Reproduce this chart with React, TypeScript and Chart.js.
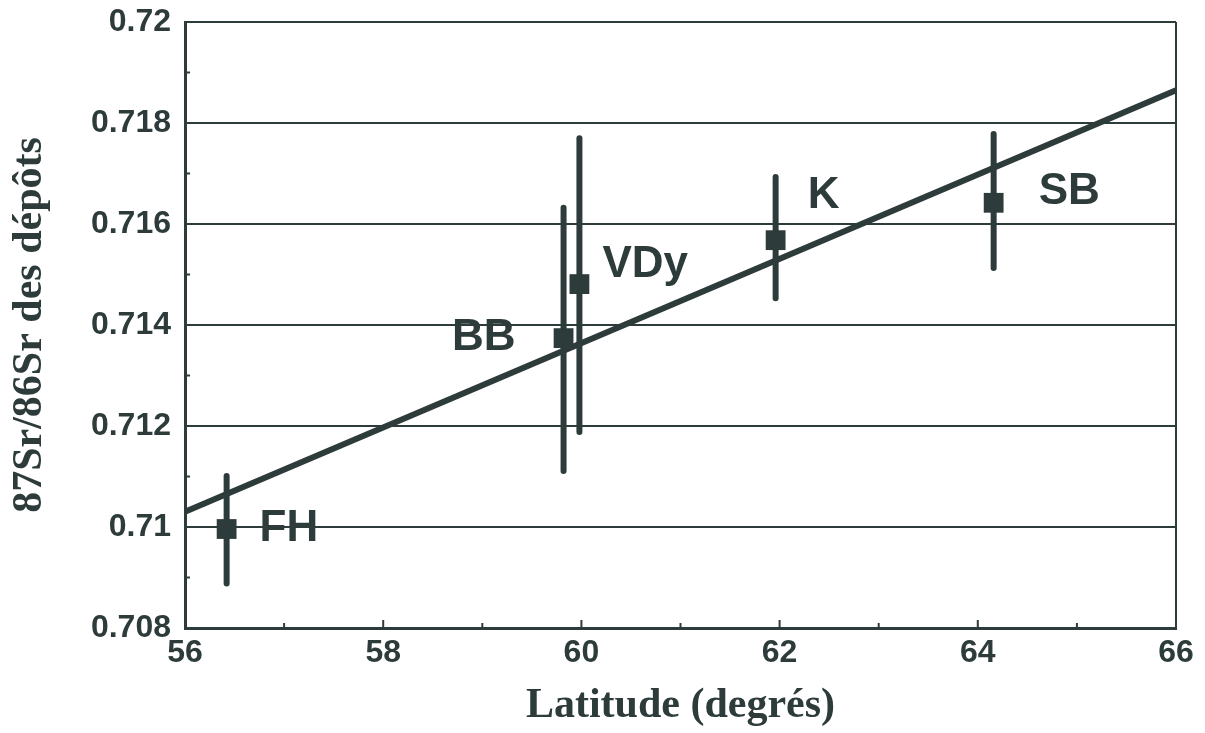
import React, { useEffect, useRef } from "react";
import { Chart, registerables } from "chart.js";

Chart.register(...registerables);

const sites = ["FH", "BB", "VDy", "K", "SB"];
const latitudes = [56.42, 59.82, 59.98, 61.96, 64.16];
const ratios = [0.70996, 0.71374, 0.71481, 0.71568, 0.71642];
const errLow = [0.70888, 0.71111, 0.71188, 0.71453, 0.71513];
const errHigh = [0.71101, 0.71632, 0.71770, 0.71693, 0.71778];
const fitX = [56, 66];
const fitY = [0.7103, 0.71865];
const xTickValues = [56, 58, 60, 62, 64, 66];
const xMinorTicks = [57, 59, 61, 63, 65];
const yMinorTicks = [0.709, 0.711, 0.713, 0.715, 0.717, 0.719];

const INK = "#2e3b3b";
// label pixel offsets [dx, dy, align]
const labelOffsets: [number, number, CanvasTextAlign][] = [
  [33, 0, "left"],
  [-48, 0, "right"],
  [23, -19, "left"],
  [32, -44, "left"],
  [45, -11, "left"],
];

const decorPlugin = {
  id: "decor",
  afterDatasetsDraw(chart: any) {
    const { ctx, chartArea, scales } = chart;
    const xs = scales.x;
    const ys = scales.y;
    ctx.save();
    ctx.strokeStyle = INK;
    ctx.lineWidth = 2;
    ctx.beginPath();
    ctx.moveTo(chartArea.right, chartArea.top);
    ctx.lineTo(chartArea.right, chartArea.bottom);
    ctx.stroke();
    xTickValues.forEach((v) => {
      const px = xs.getPixelForValue(v);
      ctx.beginPath();
      ctx.moveTo(px, chartArea.bottom);
      ctx.lineTo(px, chartArea.bottom - 8);
      ctx.stroke();
    });
    xMinorTicks.forEach((v) => {
      const px = xs.getPixelForValue(v);
      ctx.beginPath();
      ctx.moveTo(px, chartArea.bottom);
      ctx.lineTo(px, chartArea.bottom - 5);
      ctx.stroke();
    });
    yMinorTicks.forEach((v) => {
      const py = ys.getPixelForValue(v);
      ctx.beginPath();
      ctx.moveTo(chartArea.left, py);
      ctx.lineTo(chartArea.left + 5, py);
      ctx.stroke();
    });
    ctx.fillStyle = INK;
    ctx.font = "bold 44px 'Liberation Sans', Arial, sans-serif";
    ctx.textBaseline = "middle";
    sites.forEach((s, i) => {
      const px = xs.getPixelForValue(latitudes[i]);
      const py = ys.getPixelForValue(ratios[i]);
      const [dx, dy, al] = labelOffsets[i];
      ctx.textAlign = al;
      ctx.fillText(s, px + dx, py + dy);
    });
    ctx.restore();
  },
};

export default function App() {
  const ref = useRef<HTMLCanvasElement>(null);
  useEffect(() => {
    if (!ref.current) return;
    const errorSets = sites.map((s, i) => ({
      type: "line" as const,
      label: s + " err",
      data: [
        { x: latitudes[i], y: errLow[i] },
        { x: latitudes[i], y: errHigh[i] },
      ],
      borderColor: INK,
      borderWidth: 6,
      borderCapStyle: "round" as const,
      pointRadius: 0,
      order: 2,
    }));
    const chart = new Chart(ref.current, {
      type: "scatter",
      data: {
        datasets: [
          {
            type: "line",
            label: "fit",
            data: fitX.map((x, i) => ({ x, y: fitY[i] })),
            borderColor: INK,
            borderWidth: 6,
            pointRadius: 0,
            order: 3,
          } as any,
          ...errorSets,
          {
            label: "points",
            data: latitudes.map((x, i) => ({ x, y: ratios[i] })),
            pointStyle: "rect",
            pointRadius: 14,
            backgroundColor: INK,
            borderColor: INK,
            borderWidth: 0,
            order: 1,
          },
        ],
      },
      options: {
        animation: false,
        responsive: false,
        layout: { padding: { top: 22, right: 29, left: 0, bottom: 0 } },
        plugins: { legend: { display: false }, tooltip: { enabled: false } },
        scales: {
          x: {
            type: "linear",
            min: 56,
            max: 66,
            afterFit: (s: any) => {
              s.height = 105;
              s.paddingRight = 0;
              s.paddingLeft = 0;
            },
            ticks: {
              stepSize: 2,
              color: INK,
              padding: 6,
              font: { family: "'Liberation Sans', Arial, sans-serif", size: 32, weight: "bold" },
            },
            grid: { display: false, drawTicks: false },
            border: { display: true, color: INK, width: 3 },
            title: {
              display: true,
              text: "Latitude (degrés)",
              color: INK,
              padding: { top: 0, bottom: 2 },
              font: { family: "'Liberation Serif', 'Times New Roman', serif", size: 42, weight: "bold" },
            },
          },
          y: {
            type: "linear",
            min: 0.708,
            max: 0.72,
            afterFit: (s: any) => {
              s.width = 185;
              s.paddingTop = 0;
              s.paddingBottom = 0;
            },
            ticks: {
              stepSize: 0.002,
              color: INK,
              padding: 14,
              font: { family: "'Liberation Sans', Arial, sans-serif", size: 32, weight: "bold" },
              callback: (v: any) => String(Number(Number(v).toFixed(3))),
            },
            grid: { color: INK, lineWidth: 2, drawTicks: false },
            border: { display: true, color: INK, width: 3 },
            title: {
              display: true,
              text: "87Sr/86Sr des dépôts",
              color: INK,
              padding: { top: 5, bottom: 0 },
              font: { family: "'Liberation Serif', 'Times New Roman', serif", size: 42, weight: "bold" },
            },
          },
        },
      } as any,
      plugins: [decorPlugin],
    });
    return () => chart.destroy();
  }, []);
  return (
    <div style={{ position: "fixed", left: 0, top: 0, width: 1205, height: 733, background: "#fff" }}>
      <canvas ref={ref} width={1205} height={733} />
    </div>
  );
}
